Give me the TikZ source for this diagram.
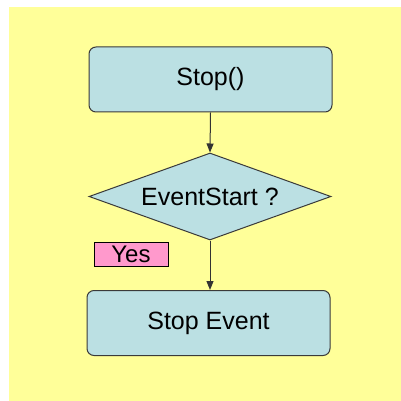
\documentclass[tikz,border=0pt]{standalone}
\usepackage{fontspec}
\setmainfont{Liberation Sans}
\usetikzlibrary{arrows.meta,shapes.geometric}
\definecolor{bgyellow}{HTML}{FFFF99}
\definecolor{boxfill}{HTML}{BBE0E3}
\definecolor{edge}{HTML}{3A3A3A}
\definecolor{yespink}{HTML}{FF99CC}
\tikzset{
  every node/.style={font=\fontsize{25}{30}\selectfont},
  procbox/.style={draw=edge, line width=1pt, fill=boxfill, rounded corners=7pt,
    minimum width=243pt, minimum height=65pt, inner sep=0pt},
  decision/.style={draw=edge, line width=1pt, fill=boxfill, diamond, aspect=2.78,
    minimum width=242pt, minimum height=87pt, inner sep=0pt},
  flow/.style={draw=black!80, line width=1pt, -{Triangle[length=9pt,width=7pt]}},
  tag/.style={draw=black, line width=0.8pt, fill=yespink, minimum width=74pt,
    minimum height=24pt, inner sep=0pt, font=\fontsize{24}{28}\selectfont}
}
\begin{document}
\begin{tikzpicture}[x=1pt,y=-1pt]
  \useasboundingbox (0,0) rectangle (401,401);
  \fill[bgyellow] (9,7) rectangle (401,401);
  \node[procbox] (stop) at (210.5,79.5) {Stop()};
  \node[decision] (check) at (210,196.5) {EventStart ?};
  \node[procbox] (event) at (208.5,323) {Stop Event};
  \node[tag] (yes) at (131,254) {Yes};
  \draw[flow] (stop.south) -- (check.north);
  \draw[flow] (check.south) -- (check.south |- event.north);
\end{tikzpicture}
\end{document}
